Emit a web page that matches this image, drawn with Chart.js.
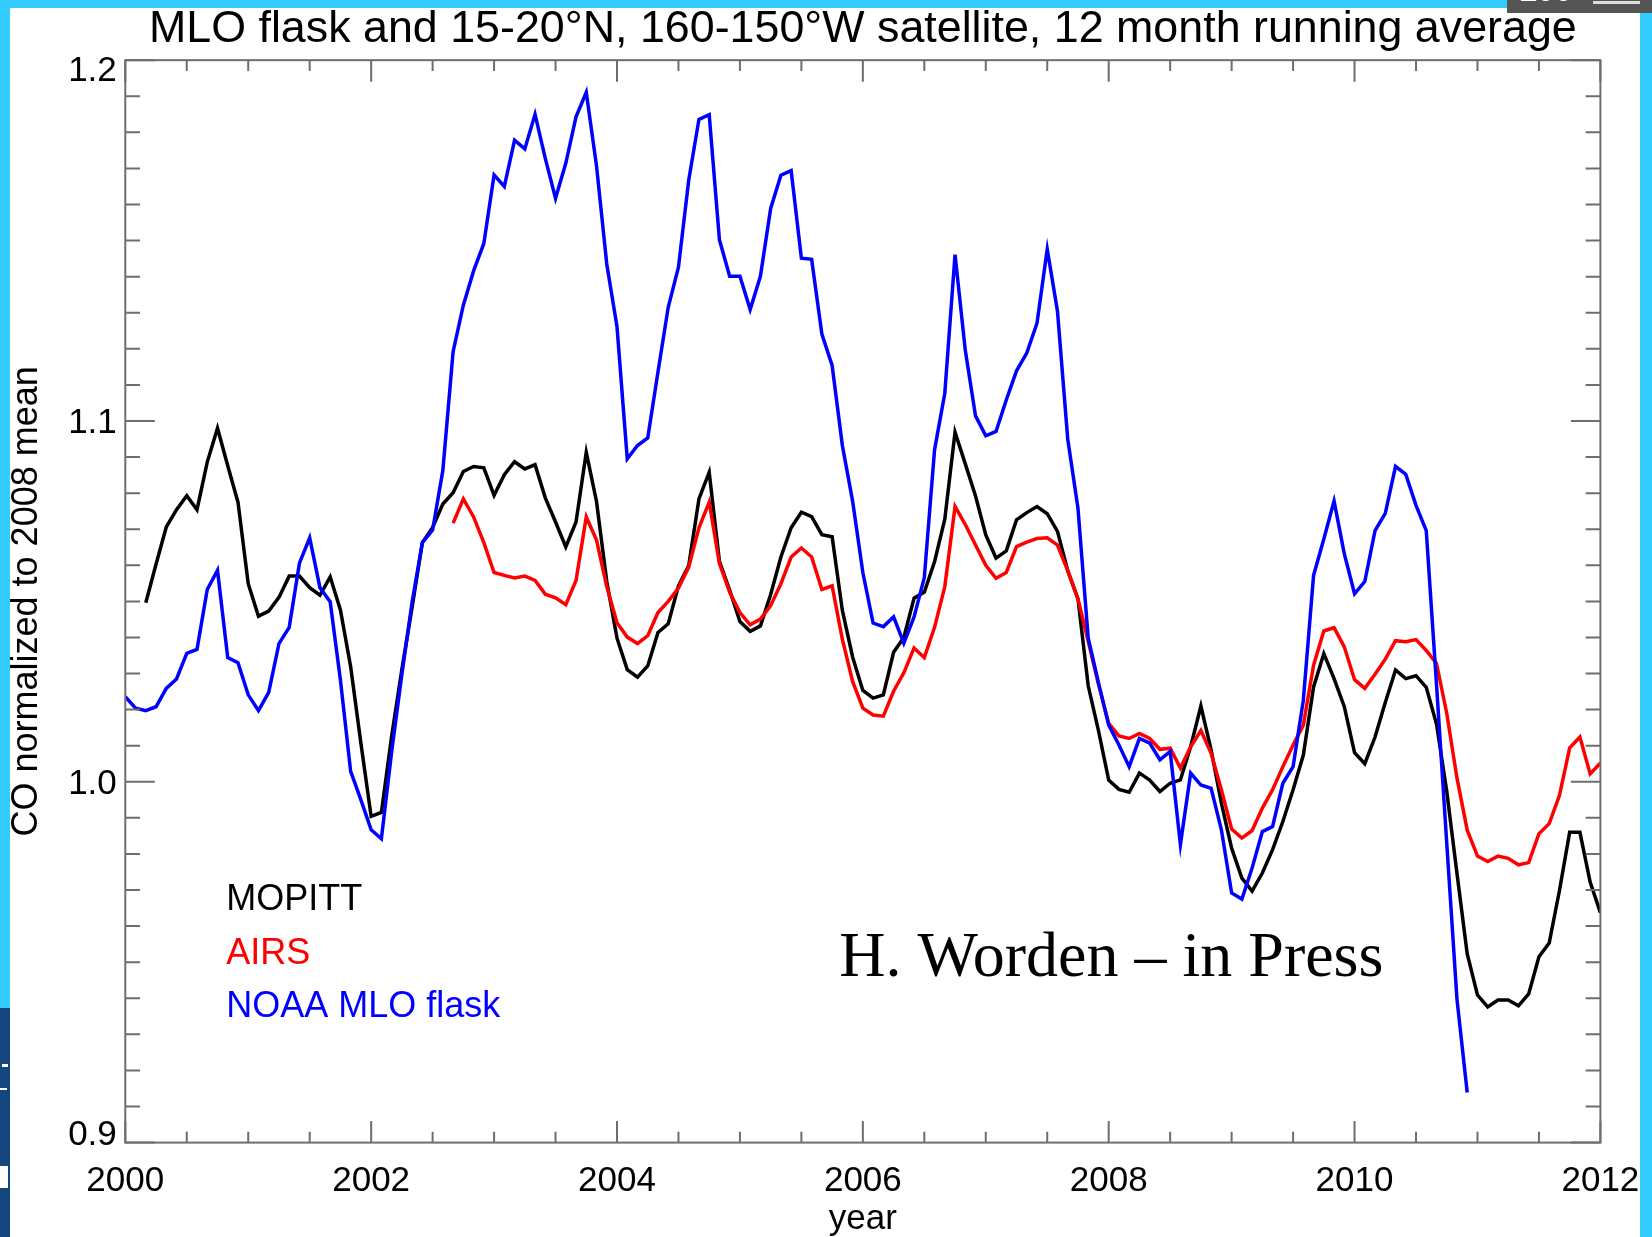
<!DOCTYPE html>
<html>
<head>
<meta charset="utf-8">
<script src="https://cdn.jsdelivr.net/npm/chart.js@4.4.1/dist/chart.umd.min.js"></script>
<style>
  body { margin: 0; width: 1652px; height: 1237px; overflow: hidden; background: #33ccff; font-family: "Liberation Sans", Arial, sans-serif; }
  #sheet { position: absolute; left: 10px; top: 8px; width: 1630px; height: 1229px; background: #fff; }
  #tab { position: absolute; left: 1507px; top: 0; width: 145px; height: 13px; background: #555; overflow: hidden; }
  #tab span { position: absolute; left: 12px; top: -28px; font: bold 32px "Liberation Sans", sans-serif; color: #fff; }
  #tab i { position: absolute; left: 86px; top: 1px; width: 47px; height: 3px; background: #ddd; }
  #logo { position: absolute; left: 0; top: 1008px; width: 10px; height: 229px; background: #14477f; }
  #logo b { position: absolute; background: #fff; }
  #wrap { position: absolute; left: 0; top: 0; width: 1652px; height: 1237px; }
</style>
</head>
<body>
<div id="sheet"></div>
<div id="tab"><span>100</span><i></i></div>
<div id="logo"><b style="left:2px;top:56px;width:6px;height:3px"></b><b style="left:0;top:80px;width:7px;height:2px"></b><b style="left:0;top:158px;width:8px;height:22px"></b></div>
<div id="wrap"><canvas id="chartCO"></canvas></div>
<script>
// monthly 12-month running means, normalized to the 2008 mean
const startYear = 2000;
const noaaStart = 0;    // Jan 2000
const mopittStart = 2;  // Mar 2000
const airsStart = 32;   // Sep 2002

const noaa = [
  1.0236, 1.0204, 1.0197, 1.0208, 1.0259, 1.0285, 1.0356, 1.0367, 1.0533, 1.0586, 1.0344, 1.0330,
  1.0241, 1.0197, 1.0248, 1.0383, 1.0428, 1.0606, 1.0676, 1.0538, 1.0499, 1.0282, 1.0029, 0.9950,
  0.9867, 0.9842, 1.0083, 1.0298, 1.0498, 1.0663, 1.0698, 1.0863, 1.1192, 1.1321, 1.1416, 1.1492,
  1.1682, 1.1650, 1.1778, 1.1754, 1.1850, 1.1728, 1.1617, 1.1714, 1.1843, 1.1911, 1.1707, 1.1435,
  1.1261, 1.0895, 1.0932, 1.0953, 1.1136, 1.1315, 1.1426, 1.1667, 1.1836, 1.1849, 1.1502, 1.1401,
  1.1401, 1.1309, 1.1401, 1.1589, 1.1681, 1.1694, 1.1451, 1.1448, 1.1241, 1.1154, 1.0932, 1.0778,
  1.0580, 1.0440, 1.0430, 1.0457, 1.0384, 1.0457, 1.0566, 1.0920, 1.1077, 1.1461, 1.1196, 1.1014,
  1.0959, 1.0971, 1.1058, 1.1139, 1.1188, 1.1271, 1.1476, 1.1304, 1.0950, 1.0758, 1.0398, 1.0275,
  1.0157, 1.0102, 1.0042, 1.0120, 1.0107, 1.0061, 1.0084, 0.9826, 1.0024, 0.9991, 0.9982, 0.9867,
  0.9692, 0.9675, 0.9761, 0.9862, 0.9876, 0.9996, 1.0042, 1.0226, 1.0572, 1.0673, 1.0778, 1.0632,
  1.0521, 1.0555, 1.0696, 1.0744, 1.0874, 1.0852, 1.0766, 1.0696, 1.0270, 0.9830, 0.9397, 0.9139
];

const mopitt = [
                  1.0496, 1.0603, 1.0706, 1.0754, 1.0793, 1.0754, 1.0886, 1.0980, 1.0876, 1.0775,
  1.0549, 1.0459, 1.0473, 1.0511, 1.0570, 1.0570, 1.0538, 1.0517, 1.0568, 1.0476, 1.0319, 1.0107,
  0.9904, 0.9915, 1.0126, 1.0312, 1.0484, 1.0663, 1.0705, 1.0770, 1.0801, 1.0860, 1.0874, 1.0870,
  1.0794, 1.0851, 1.0887, 1.0867, 1.0879, 1.0787, 1.0720, 1.0651, 1.0720, 1.0913, 1.0777, 1.0555,
  1.0398, 1.0311, 1.0290, 1.0321, 1.0414, 1.0438, 1.0543, 1.0599, 1.0784, 1.0858, 1.0611, 1.0531,
  1.0444, 1.0417, 1.0432, 1.0519, 1.0623, 1.0704, 1.0747, 1.0735, 1.0685, 1.0679, 1.0475, 1.0346,
  1.0253, 1.0232, 1.0241, 1.0359, 1.0400, 1.0509, 1.0526, 1.0610, 1.0728, 1.0969, 1.0881, 1.0792,
  1.0684, 1.0620, 1.0640, 1.0726, 1.0746, 1.0763, 1.0743, 1.0694, 1.0585, 1.0507, 1.0266, 1.0142,
  1.0005, 0.9979, 0.9971, 1.0024, 1.0005, 0.9973, 0.9996, 1.0005, 1.0097, 1.0210, 1.0088, 0.9941,
  0.9816, 0.9733, 0.9697, 0.9747, 0.9812, 0.9890, 0.9978, 1.0074, 1.0263, 1.0355, 1.0286, 1.0208,
  1.0081, 1.0050, 1.0124, 1.0220, 1.0310, 1.0286, 1.0294, 1.0262, 1.0160, 0.9974, 0.9746, 0.9523,
  0.9409, 0.9376, 0.9395, 0.9395, 0.9379, 0.9412, 0.9515, 0.9553, 0.9698, 0.9860, 0.9860, 0.9722,
  0.9637
];

const airs = [
                                                          1.0717, 1.0784, 1.0734, 1.0663,
  1.0580, 1.0572, 1.0565, 1.0570, 1.0558, 1.0520, 1.0510, 1.0491, 1.0558, 1.0734, 1.0670, 1.0541,
  1.0441, 1.0401, 1.0383, 1.0405, 1.0469, 1.0500, 1.0537, 1.0595, 1.0704, 1.0775, 1.0605, 1.0525,
  1.0469, 1.0435, 1.0451, 1.0488, 1.0549, 1.0623, 1.0648, 1.0623, 1.0533, 1.0543, 1.0395, 1.0278,
  1.0204, 1.0185, 1.0182, 1.0251, 1.0302, 1.0371, 1.0344, 1.0428, 1.0541, 1.0763, 1.0713, 1.0656,
  1.0600, 1.0564, 1.0580, 1.0652, 1.0664, 1.0674, 1.0676, 1.0656, 1.0585, 1.0507, 1.0389, 1.0270,
  1.0162, 1.0127, 1.0120, 1.0134, 1.0120, 1.0090, 1.0093, 1.0038, 1.0097, 1.0142, 1.0079, 0.9978,
  0.9869, 0.9844, 0.9865, 0.9927, 0.9978, 1.0042, 1.0102, 1.0157, 1.0323, 1.0418, 1.0427, 1.0374,
  1.0283, 1.0259, 1.0298, 1.0340, 1.0391, 1.0388, 1.0394, 1.0364, 1.0328, 1.0190, 1.0010, 0.9866,
  0.9794, 0.9779, 0.9794, 0.9788, 0.9770, 0.9776, 0.9856, 0.9884, 0.9962, 1.0094, 1.0124, 1.0022,
  1.0052
];

const yearTicks = [2000, 2002, 2004, 2006, 2008, 2010, 2012];
const coTicks = [0.9, 1.0, 1.1, 1.2];
const legendNames = ['MOPITT', 'AIRS', 'NOAA MLO flask'];
const legendColors = ['#000000', '#ff0000', '#0000ff'];

function toPoints(values, firstMonth) {
  return values.map((v, i) => ({ x: startYear + (firstMonth + i) / 12, y: v }));
}

const FONT = '"Liberation Sans", Arial, sans-serif';

// box with inward ticks on all four sides, y labels and the annotations
const frameAndText = {
  id: 'frameAndText',
  afterDraw(chart) {
    const { ctx, chartArea: a, scales: { x, y } } = chart;
    ctx.save();
    ctx.strokeStyle = '#6e6e6e';
    ctx.lineWidth = 2;
    ctx.strokeRect(a.left, a.top, a.right - a.left, a.bottom - a.top);
    const xMajor = (a.bottom - a.top) * 0.02;
    const yMajor = (a.right - a.left) * 0.02;
    ctx.beginPath();
    for (let i = 0; i <= 24; i++) {
      const yr = 2000 + i * 0.5;
      const px = x.getPixelForValue(yr);
      const len = i % 4 === 0 ? xMajor : xMajor / 2;
      ctx.moveTo(px, a.bottom); ctx.lineTo(px, a.bottom - len);
      ctx.moveTo(px, a.top); ctx.lineTo(px, a.top + len);
    }
    for (let i = 0; i <= 30; i++) {
      const py = y.getPixelForValue(0.9 + i * 0.01);
      const len = i % 10 === 0 ? yMajor : yMajor / 2;
      ctx.moveTo(a.left, py); ctx.lineTo(a.left + len, py);
      ctx.moveTo(a.right, py); ctx.lineTo(a.right - len, py);
    }
    ctx.stroke();

    ctx.fillStyle = '#000';
    ctx.font = '35px ' + FONT;
    ctx.textAlign = 'right';
    ctx.textBaseline = 'alphabetic';
    coTicks.forEach(v => {
      const py = y.getPixelForValue(v);
      const base = Math.min(Math.max(py + 12.5, a.top + 21), a.bottom + 2);
      ctx.fillText(v.toFixed(1), a.left - 8.5, base);
    });

    ctx.textAlign = 'left';
    ctx.font = '36px ' + FONT;
    legendNames.forEach((name, i) => {
      ctx.fillStyle = legendColors[i];
      ctx.fillText(name, a.left + 101, a.top + 850 + i * 53.5);
    });

    ctx.fillStyle = '#000';
    ctx.font = '64px "Liberation Serif", "Times New Roman", serif';
    ctx.fillText('H. Worden \u2013 in Press', a.left + 714, a.top + 916);
    ctx.restore();
  }
};

const ctxCO = document.getElementById('chartCO').getContext('2d');
const chartCO = new Chart(ctxCO, {
  type: 'line',
  data: {
    datasets: [
      { label: 'NOAA MLO flask', data: toPoints(noaa, noaaStart), borderColor: '#0000ff', order: 1 },
      { label: 'AIRS', data: toPoints(airs, airsStart), borderColor: '#ff0000', order: 2 },
      { label: 'MOPITT', data: toPoints(mopitt, mopittStart), borderColor: '#000000', order: 3 }
    ]
  },
  options: {
    responsive: true,
    maintainAspectRatio: false,
    animation: false,
    layout: { padding: { top: 0, right: 51.6, bottom: 0, left: 0 } },
    elements: {
      point: { radius: 0 },
      line: { borderWidth: 3.5, tension: 0, fill: false }
    },
    plugins: {
      legend: { display: false },
      tooltip: { enabled: false },
      title: {
        display: true,
        fullSize: false,
        text: 'MLO flask and 15-20\u00b0N, 160-150\u00b0W satellite, 12 month running average',
        color: '#000',
        font: { family: FONT, size: 44.8, weight: 'normal' },
        padding: { top: 3, bottom: 3.4 }
      }
    },
    scales: {
      x: {
        type: 'linear',
        min: 2000,
        max: 2012,
        afterBuildTicks: scale => { scale.ticks = yearTicks.map(v => ({ value: v })); },
        afterFit: scale => { scale.height = 94.4; },
        grid: { display: false, drawTicks: false },
        border: { display: false },
        ticks: {
          color: '#000',
          font: { family: FONT, size: 35, lineHeight: 1.5 },
          padding: 12,
          maxRotation: 0,
          autoSkip: false,
          callback: v => String(v)
        },
        title: {
          display: true,
          text: 'year',
          color: '#000',
          font: { family: FONT, size: 35 },
          padding: { top: 0, bottom: -3 }
        }
      },
      y: {
        min: 0.9,
        max: 1.2,
        afterBuildTicks: scale => { scale.ticks = coTicks.map(v => ({ value: v })); },
        afterFit: scale => { scale.width = 125.3; },
        grid: { display: false, drawTicks: false },
        border: { display: false },
        ticks: { display: false },
        title: {
          display: true,
          text: 'CO normalized to 2008 mean',
          color: '#000',
          font: { family: FONT, size: 36 },
          padding: { top: 5, bottom: 0 }
        }
      }
    }
  },
  plugins: [frameAndText]
});
</script>
</body>
</html>
